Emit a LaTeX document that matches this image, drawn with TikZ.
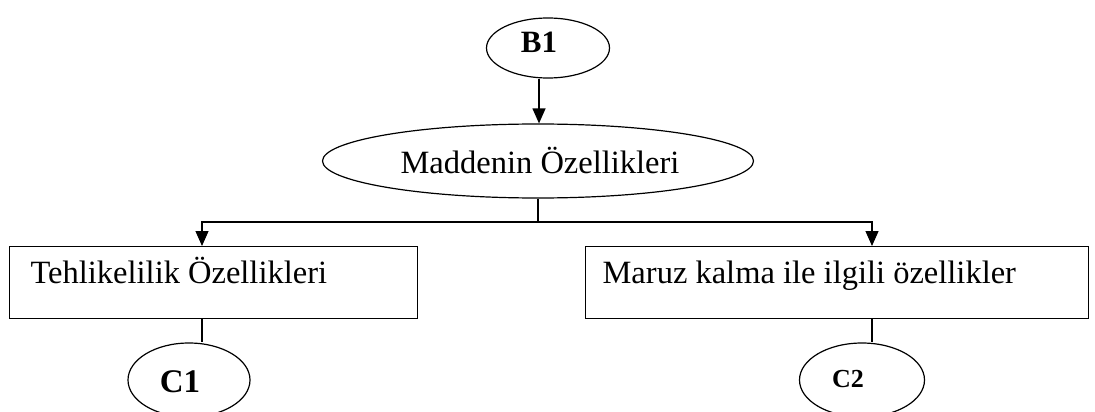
\documentclass[tikz,border=0pt]{standalone}
\usepackage{fontspec}
\setmainfont{Liberation Serif}
\usetikzlibrary{arrows.meta,shapes.geometric}
\begin{document}
\begin{tikzpicture}[x=1pt,y=1pt,
  line width=1.2pt,
  oval/.style={draw,ellipse,inner sep=0pt},
  box/.style={draw,rectangle,anchor=north west,inner sep=0pt},
  lbl/.style={anchor=base west,inner sep=0pt,font=\fontsize{32.5}{36}\selectfont},
  tag/.style={anchor=base,inner sep=0pt,font=\bfseries\fontsize{#1}{#1}\selectfont},
  arr/.style={-{Triangle[length=15pt,width=13pt]}}]
\useasboundingbox (0,0) rectangle (1095,-412);

% top-level ellipses
\node[oval,minimum width=123,minimum height=60] (b1) at (548,-48) {};
\node[tag=31] (b1t) at (539,-53) {B1};
\node[oval,minimum width=431,minimum height=74] (md) at (538,-161) {};
\node[lbl] (mdt) at (400,-173) {Maddenin Özellikleri};

% boxes
\node[box,minimum width=408,minimum height=72] (tb) at (9,-246) {};
\node[lbl] (tbt) at (30,-283) {Tehlikelilik Özellikleri};
\node[box,minimum width=503,minimum height=72] (mk) at (585,-246) {};
\node[lbl] (mkt) at (602,-283) {Maruz kalma ile ilgili özellikler};

% bottom ellipses
\node[oval,minimum width=122,minimum height=74] (c1) at (189,-380) {};
\node[tag=33] (c1t) at (180,-392) {C1};
\node[oval,minimum width=125,minimum height=74] (c2) at (862,-380) {};
\node[tag=26] (c2t) at (848,-387) {C2};

% connection points
\coordinate (j) at (538,-222);
\coordinate (tbin) at (202,-246);
\coordinate (mkin) at (872,-246);
\coordinate (tbout) at (202,-318);
\coordinate (mkout) at (872,-318);

% connectors
\draw[arr] (b1t |- b1.south) -- (b1t |- md.north);
\draw (md.south) -- (j);
\draw[arr] (j) -| (tbin);
\draw[arr] (j) -| (mkin);
\draw (tbout) -- (tbout |- c1.north);
\draw (mkout) -- (mkout |- c2.north);
\end{tikzpicture}
\end{document}
